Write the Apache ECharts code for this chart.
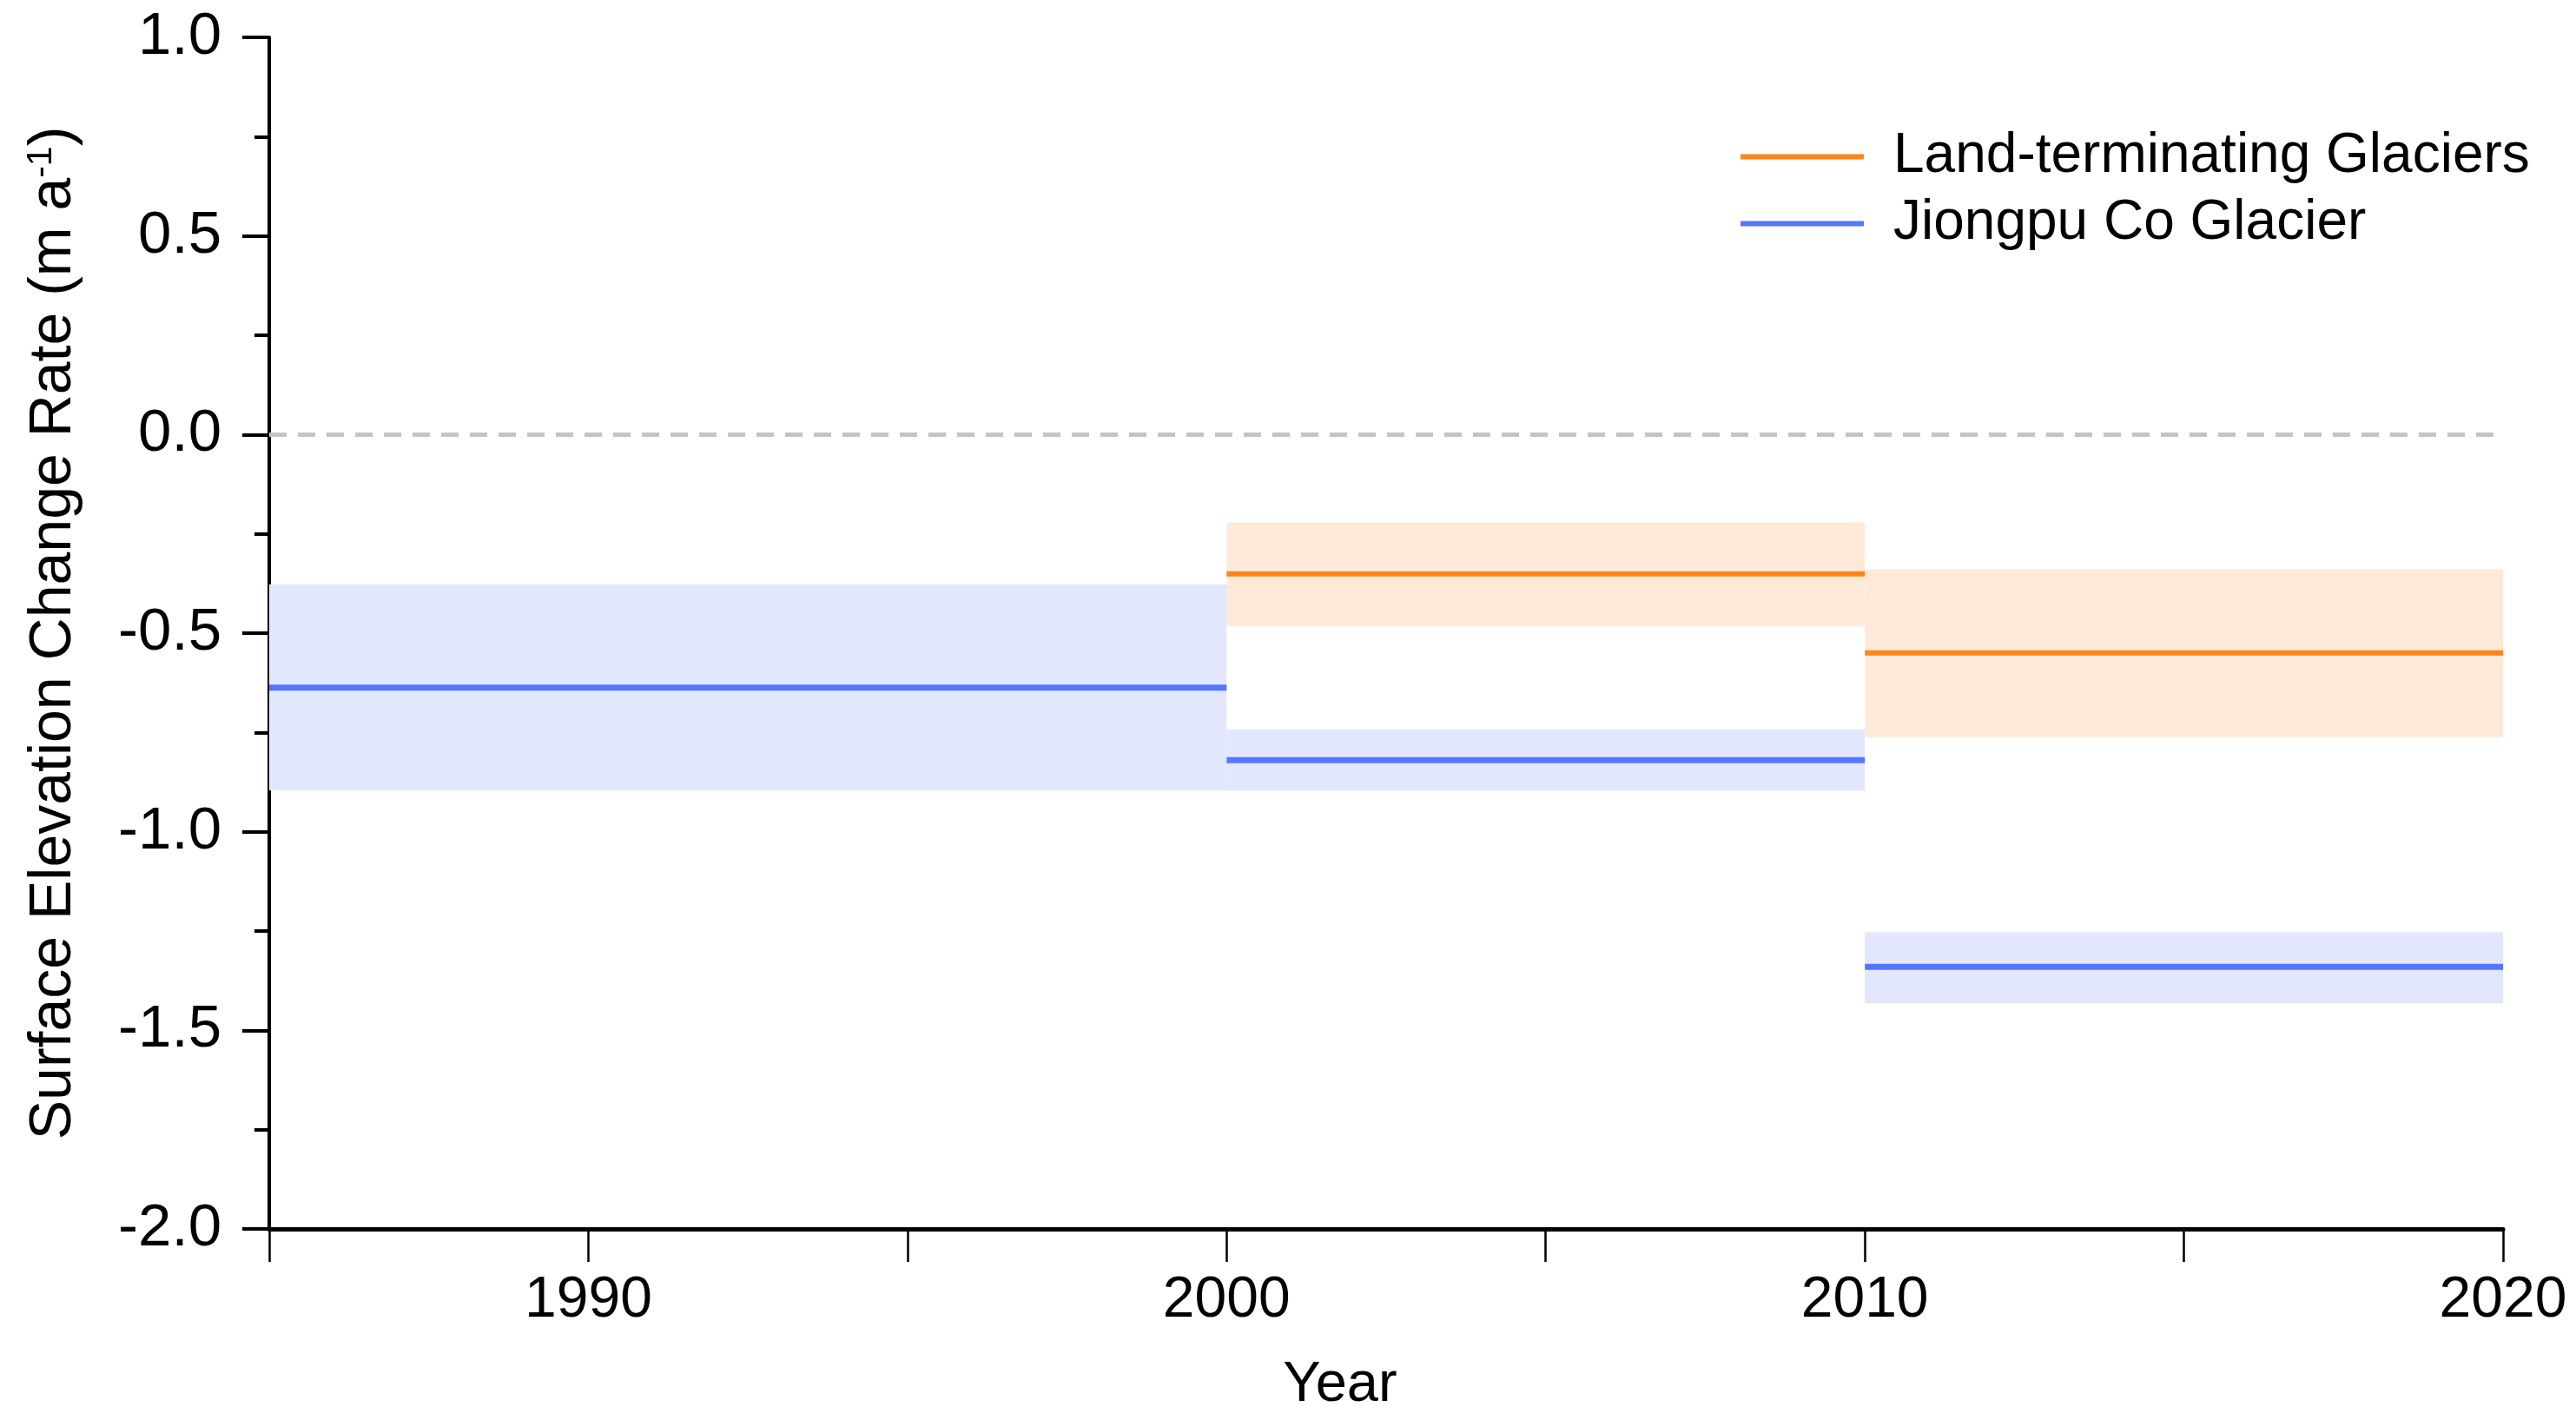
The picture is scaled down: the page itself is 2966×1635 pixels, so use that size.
<!DOCTYPE html>
<html>
<head>
<meta charset="utf-8">
<script src="https://cdn.jsdelivr.net/npm/echarts@6/dist/echarts.min.js"></script>
<style>
html,body{margin:0;padding:0;background:#fff;}
#chart{width:2966px;height:1635px;}
</style>
</head>
<body>
<div id="chart"></div>
<script>
// ---- data ----
var periodStart = [1985, 2000, 2010];
var periodEnd   = [2000, 2010, 2020];
var jiongpuRate = [-0.637, -0.820, -1.340];
var jiongpuLow  = [-0.896, -0.897, -1.432];
var jiongpuHigh = [-0.377, -0.742, -1.253];
var landRate    = [null, -0.351, -0.550];
var landLow     = [null, -0.482, -0.762];
var landHigh    = [null, -0.221, -0.339];
var xLabelYears = [1990, 2000, 2010, 2020];
var seriesNames = ['Land-terminating Glaciers', 'Jiongpu Co Glacier'];

var ORANGE = '#FF8519', ORANGE_BAND = '#FFEADA';
var BLUE = '#5576FF', BLUE_BAND = '#E2E7FE';

function bandData(low, high) {
  var out = [];
  for (var i = 0; i < periodStart.length; i++) {
    if (low[i] == null) continue;
    out.push([periodStart[i], periodEnd[i], low[i], high[i]]);
  }
  return out;
}
function stepLine(rate) {
  var out = [];
  for (var i = 0; i < periodStart.length; i++) {
    if (rate[i] == null) continue;
    out.push([periodStart[i], rate[i]]);
    out.push([periodEnd[i], rate[i]]);
    out.push([periodEnd[i], '-']);
  }
  return out;
}
function bandSeries(name, low, high, color) {
  return {
    type: 'custom', name: name, z: 1, silent: true,
    data: bandData(low, high),
    encode: { x: [0, 1], y: [2, 3] },
    renderItem: function (params, api) {
      var p1 = api.coord([api.value(0), api.value(3)]);
      var p2 = api.coord([api.value(1), api.value(2)]);
      return { type: 'rect', shape: { x: p1[0], y: p1[1], width: p2[0] - p1[0], height: p2[1] - p1[1] },
               style: { fill: color } };
    }
  };
}

var chart = echarts.init(document.getElementById('chart'));
var FONT = '"Liberation Sans", Arial, sans-serif';

chart.setOption({
  animation: false,
  backgroundColor: '#fff',
  grid: { left: 310, right: 84, top: 43, bottom: 220 },
  legend: {
    data: seriesNames,
    orient: 'vertical', left: 1999, top: 137,
    icon: 'rect', itemWidth: 142, itemHeight: 6, itemGap: 0,
    textStyle: { fontFamily: FONT, fontSize: 64, color: '#000', lineHeight: 77, padding: [0, 0, 0, 29] }
  },
  xAxis: {
    type: 'value', min: 1985, max: 2020, interval: 5,
    name: 'Year', nameLocation: 'middle', nameGap: 148,
    nameTextStyle: { fontFamily: FONT, fontSize: 65, color: '#000', padding: [0, 106, 0, 0] },
    axisLine: { show: true, onZero: false, lineStyle: { color: '#000', width: 5 } },
    axisTick: { show: true, inside: false, length: 38, lineStyle: { color: '#000', width: 2.5 } },
    axisLabel: {
      margin: 50, fontFamily: FONT, fontSize: 66, color: '#000',
      formatter: function (v) { return xLabelYears.indexOf(v) >= 0 ? String(v) : ''; }
    },
    splitLine: { show: false }
  },
  yAxis: {
    type: 'value', min: -2, max: 1, interval: 0.5,
    name: 'Surface Elevation Change Rate (m a{sup|-1})', nameLocation: 'middle', nameGap: 212, nameRotate: 90,
    nameTextStyle: { fontFamily: FONT, fontSize: 68, color: '#000',
      rich: { sup: { fontFamily: FONT, fontSize: 41, color: '#000', verticalAlign: 'top', padding: [0, 0, 30, 0] } } },
    axisLine: { show: true, onZero: false, lineStyle: { color: '#000', width: 4 } },
    axisTick: { show: true, inside: false, length: 31, lineStyle: { color: '#000', width: 4 } },
    minorTick: { show: true, splitNumber: 2, length: 17, lineStyle: { color: '#000', width: 4 } },
    axisLabel: { margin: 55, fontFamily: FONT, fontSize: 69, color: '#000',
      formatter: function (v) { return v.toFixed(1); } },
    splitLine: { show: false }
  },
  series: [
    bandSeries('land band', landLow, landHigh, ORANGE_BAND),
    bandSeries('jiongpu band', jiongpuLow, jiongpuHigh, BLUE_BAND),
    {
      type: 'line', name: seriesNames[0], data: stepLine(landRate), z: 3,
      showSymbol: false, symbol: 'none', connectNulls: false,
      lineStyle: { color: ORANGE, width: 6 }, itemStyle: { color: ORANGE },
      markLine: {
        silent: true, symbol: 'none', label: { show: false },
        lineStyle: { color: '#C4C4C4', width: 5, type: [20, 13] },
        data: [{ yAxis: 0 }]
      }
    },
    {
      type: 'line', name: seriesNames[1], data: stepLine(jiongpuRate), z: 3,
      showSymbol: false, symbol: 'none', connectNulls: false,
      lineStyle: { color: BLUE, width: 7 }, itemStyle: { color: BLUE }
    }
  ]
});
</script>
</body>
</html>
